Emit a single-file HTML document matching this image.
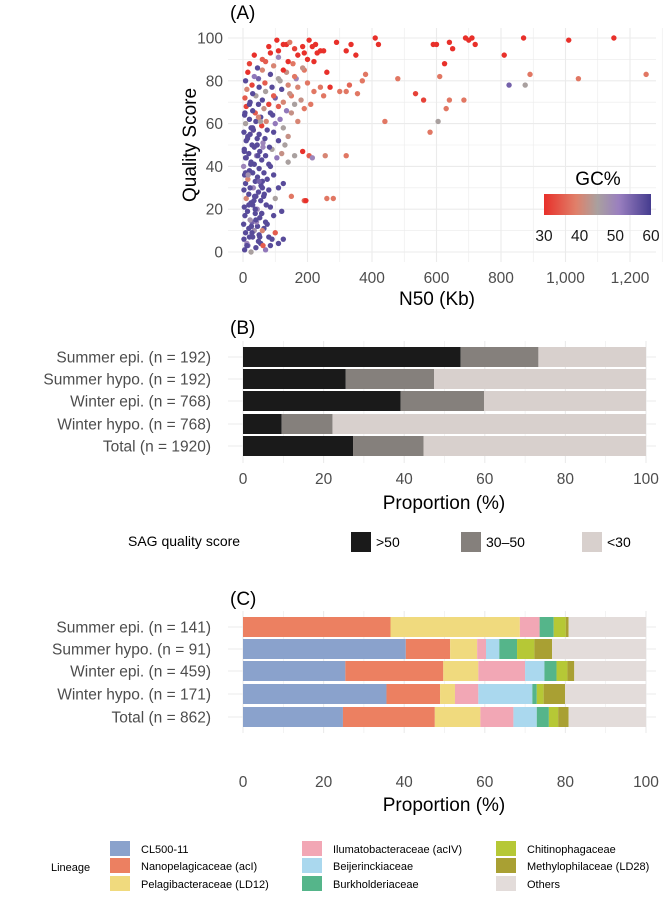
<!DOCTYPE html>
<html><head><meta charset="utf-8"><style>
body{margin:0;background:#fff}
svg text{font-family:"Liberation Sans",Arial,sans-serif}
</style></head><body>
<svg id="fig" width="666" height="898" viewBox="0 0 666 898" xmlns="http://www.w3.org/2000/svg">
<defs><linearGradient id="gcgrad" x1="0" x2="1" y1="0" y2="0">
<stop offset="0" stop-color="#e8302a"/><stop offset="0.3" stop-color="#e0806a"/><stop offset="0.5" stop-color="#a9a09f"/><stop offset="0.7" stop-color="#9a7fbf"/><stop offset="1" stop-color="#453c8f"/></linearGradient></defs>
<g id="pa"></g>
<g id="pb"></g>
<g id="pc"></g>
</svg>
<script>
// ---------- Panel A data ----------
const n50Kb = [5,15,25,40,55,70,85, 3,12,30,48,62,90,110, 8,20,35,50,65,80,100,125, 2,18,28,45,60,75, 6,22,38,52,70,95, 4,14,30,44,58,85,120, 10,25,40,55,72,100, 3,18,32,48,64,80, 8,22,38,56,75,110,125, 5,15,30,45,60,95, 2,20,35,50,65,85, 8,25,42,58,80,105,140,160, 4,18,35,52,70,90,120, 10,28,44,62,82,110,130, 3,15,32,50,68,95,140, 8,25,40,58,75,100,125,170, 5,20,38,55,72,92,115,150, 10,30,48,65,85,110,135,160,190, 6,22,40,60,80,100,125,150,180,210, 12,30,50,70,95,120,145,170,220,250, 8,28,48,68,90,115,140,165,200,240, 15,35,60,85,110,135,160,190, 20,45,70,95,125,155,185,220, 35,60,85,110,140,170,200,230, 80,110,135,160,190,215,240, 105,125,145,185,205,225,
410,420,590,600,640,650,690,700,710,720,870,1010,1150,810,625,380,480,610,890,1040,1250,825,875,535,560,640,685,630,440,605,580,320,255,185,205,215,260,280,150,190,195,330,355,370,320,300,290,335,350,320,250,260,270,
12,28,42,58,18,36,50,8,24,46,62,14,32,54,6,20,40,66,10,30,52,16,34,44,26,48,4,38,60,22];
const qualityScore = [1,3,0,2,4,1,3, 6,4,7,5,3,6,4, 9,7,10,8,11,7,9,6, 13,11,14,12,10,13, 17,15,18,16,14,17, 21,19,22,20,18,21,19, 25,23,26,24,22,25, 29,27,30,28,26,29, 32,30,33,31,34,30,32, 36,34,37,35,33,36, 40,38,41,39,37,40, 44,42,45,43,41,44,42,45, 48,46,49,47,45,48,46, 52,50,53,51,49,52,50, 56,54,57,55,53,56,54, 60,58,61,59,57,60,58,61, 64,62,65,63,61,64,62,65, 68,66,69,67,65,68,66,69,67, 72,70,73,71,69,72,70,73,71,69, 76,74,77,75,73,76,74,77,75,73, 80,78,81,79,77,80,78,81,79,77, 84,82,85,83,81,84,82,85, 88,86,89,87,85,88,86,89, 92,90,93,91,89,92,90,93, 96,94,97,95,93,96,94, 99,97,98,96,99,97,
100,97,97,97,98,95,100,99,100,97,100,99,100,92,88,83,81,82,83,81,83,78,78,74,71,71,71,67,61,61,56,45,45,47,45,44,25,25,26,24,24,78,74,80,75,75,98,97,92,94,94,84,77,
3,9,14,18,22,26,33,37,41,45,49,53,57,61,65,69,15,27,44,58,7,36,24,50,12,63,47,20,30,55];
const gcPercent = [58,55,45,58,58,52,58, 58,50,58,58,35,58,58, 58,58,48,58,58,58,35,58, 58,58,55,58,40,58, 58,48,58,58,58,58, 58,58,58,50,58,58,58, 40,58,58,58,58,45, 58,58,50,58,58,58, 58,58,58,58,58,58,58, 58,40,58,58,58,58, 50,58,58,58,58,58, 58,58,50,58,58,52,45,45, 58,58,58,58,58,45,42, 58,58,58,50,58,58,45, 58,58,35,58,58,58,42, 45,58,58,32,58,52,45,40, 58,58,35,58,40,58,52,42, 32,58,58,42,58,35,52,45,38, 35,58,45,58,32,55,40,38,42,38, 40,58,58,45,35,58,42,40,38,38, 58,32,55,35,58,45,40,50,38,38, 30,52,40,58,45,42,38,38, 32,58,35,40,30,38,42,30, 30,35,30,50,30,30,30,30, 30,30,30,32,30,30,30, 30,30,38,30,30,30,
30,30,30,30,30,30,30,30,30,30,30,30,30,30,30,38,38,38,38,38,38,55,45,32,32,38,38,38,38,45,38,38,40,30,35,50,38,38,38,36,30,36,38,38,38,38,30,30,30,30,30,30,30,
58,58,50,58,58,58,55,58,58,58,50,58,58,45,58,58,58,58,58,58,58,48,58,58,58,40,58,58,58,58];
const xTicksA = [0,200,400,600,800,1000,1200];
const xTickLabelsA = ["0","200","400","600","800","1,000","1,200"];
const yTicksA = [0,20,40,60,80,100];
const gcTicks = [30,40,50,60];

// ---------- Panel B data ----------
const groupsB = ["Summer epi. (n = 192)","Summer hypo. (n = 192)","Winter epi. (n = 768)","Winter hypo. (n = 768)","Total (n = 1920)"];
const qHigh = [54.0,25.5,39.1,9.6,27.3];
const qMid = [19.3,21.9,20.7,12.6,17.5];
const qLow = [26.7,52.6,40.2,77.8,55.2];
const qualityClasses = [">50","30–50","<30"];

// ---------- Panel C data ----------
const groupsC = ["Summer epi. (n = 141)","Summer hypo. (n = 91)","Winter epi. (n = 459)","Winter hypo. (n = 171)","Total (n = 862)"];
const lineages = ["CL500-11","Nanopelagicaceae (acI)","Pelagibacteraceae (LD12)","Ilumatobacteraceae (acIV)","Beijerinckiaceae","Burkholderiaceae","Chitinophagaceae","Methylophilaceae (LD28)","Others"];
const cl500 = [0,40.4,25.4,35.6,24.8];
const nanopel = [36.6,11.0,24.3,13.3,22.8];
const ld12 = [32.1,6.7,8.7,3.7,11.3];
const aciv = [4.9,2.2,11.6,5.8,8.2];
const beij = [0,3.3,4.8,13.4,5.8];
const burk = [3.5,4.4,3.0,1.1,3.0];
const chit = [3.0,4.3,2.7,1.7,2.3];
const meth = [0.7,4.4,1.7,5.3,2.6];
const others = [19.2,23.3,17.8,20.1,19.2];
const propTicks = [0,20,40,60,80,100];

const NS="http://www.w3.org/2000/svg";
function mk(parent,tag,attrs,text){const e=document.createElementNS(NS,tag);for(const k in attrs)e.setAttribute(k,attrs[k]);if(text!==undefined)e.textContent=text;parent.appendChild(e);return e;}

// ---------- Panel A ----------
const pa=document.getElementById('pa');
const ax=v=>243+v*0.3225, ay=v=>252-v*2.14;
const gcStops=[[30,[232,48,42]],[39,[224,128,106]],[45,[169,160,159]],[51,[154,127,191]],[60,[69,60,143]]];
function gcColor(g){for(let i=0;i<gcStops.length-1;i++){const [a,ca]=gcStops[i],[b,cb]=gcStops[i+1];if(g<=b){const t=Math.max(0,(g-a)/(b-a));return `rgb(${ca.map((c,j)=>Math.round(c+(cb[j]-c)*t)).join(',')})`;}}return 'rgb(69,60,143)';}
for(let v=0;v<=1300;v+=100){const l=mk(pa,'line',{x1:ax(v),x2:ax(v),y1:28,y2:262,stroke:'#ebebeb','stroke-width':v%200?0.6:1.1});
}
for(let v=0;v<=100;v+=10){const l=mk(pa,'line',{x1:228,x2:656,y1:ay(v),y2:ay(v),stroke:'#ebebeb','stroke-width':v%20?0.6:1.1});
}
for(let i=0;i<n50Kb.length;i++){const c=mk(pa,'circle',{cx:ax(n50Kb[i]),cy:ay(qualityScore[i]),r:2.7,fill:gcColor(gcPercent[i])});
}
xTicksA.forEach((v,i)=>{const t=mk(pa,'text',{x:ax(v),y:283,'text-anchor':'middle','font-size':15.5,fill:'#4d4d4d'},xTickLabelsA[i]);
});
yTicksA.forEach(v=>{const t=mk(pa,'text',{x:223,y:ay(v)+5.5,'text-anchor':'end','font-size':15.5,fill:'#4d4d4d'},String(v));
});
let t=mk(pa,'text',{x:437,y:305,'text-anchor':'middle','font-size':19},'N50 (Kb)');

t=mk(pa,'text',{x:0,y:0,'text-anchor':'middle','font-size':19,transform:'translate(196,145) rotate(-90)'},'Quality Score');

t=mk(pa,'text',{x:230,y:19,'font-size':19},'(A)');

t=mk(pa,'text',{x:598,y:185,'text-anchor':'middle','font-size':19},'GC%');

let r=mk(pa,'rect',{x:544,y:194,width:107,height:21,fill:'url(#gcgrad)'});

gcTicks.forEach(v=>{const tt=mk(pa,'text',{x:544+(v-30)/30*107,y:241,'text-anchor':'middle','font-size':15.5,fill:'#1a1a1a'},String(v));
});

// ---------- shared bar panel ----------
function barPanel(g,cfg){
  const bx=v=>243+v*4.03;
  for(let v=0;v<=100;v+=10){const l=mk(g,'line',{x1:bx(v),x2:bx(v),y1:cfg.top,y2:cfg.bottom,stroke:'#ebebeb','stroke-width':v%20?0.6:1.1});
  }
  cfg.groups.forEach((name,i)=>{const cy=cfg.centers[i];
    const l=mk(g,'line',{x1:228,x2:656,y1:cy,y2:cy,stroke:'#ebebeb','stroke-width':1.1});
    
    let acc=0;
    cfg.series.forEach((s,k)=>{const v=s[i];if(v>0){const rr=mk(g,'rect',{x:bx(acc),y:cy-10,width:bx(acc+v)-bx(acc),height:20,fill:cfg.colors[k]});
      }acc+=v;});
    const tt=mk(g,'text',{x:211,y:cy+5.5,'text-anchor':'end','font-size':15.5,fill:'#4d4d4d'},name);
    });
  propTicks.forEach(v=>{const tt=mk(g,'text',{x:bx(v),y:cfg.tickY,'text-anchor':'middle','font-size':15.5,fill:'#4d4d4d'},String(v));
    });
  let tt=mk(g,'text',{x:444,y:cfg.titleY,'text-anchor':'middle','font-size':19},'Proportion (%)');
  
  tt=mk(g,'text',{x:230,y:cfg.labelY,'font-size':19},cfg.label);
  
}
barPanel(document.getElementById('pb'),{groups:groupsB,centers:[357,379,401,424,446],top:341,bottom:463,
  series:[qHigh,qMid,qLow],colors:['#1a1a1a','#85807c','#d8d0cd'],tickY:484,titleY:509,labelY:334,label:'(B)'});
barPanel(document.getElementById('pc'),{groups:groupsC,centers:[627,649,671,694,717],top:611,bottom:733,
  series:[cl500,nanopel,ld12,aciv,beij,burk,chit,meth,others],
  colors:['#8aa2cc','#ec8061','#f0da7e','#f2a7b5','#aad8ee','#55b58a','#b6c836','#a9a033','#e3dcda'],tickY:787,titleY:811,labelY:605,label:'(C)'});

// legend B
const pb=document.getElementById('pb');
t=mk(pb,'text',{x:128,y:546,'font-size':14},'SAG quality score');

const lbx=[351,461,582],lbc=['#1a1a1a','#85807c','#d8d0cd'];
qualityClasses.forEach((c,i)=>{const s=mk(pb,'rect',{x:lbx[i],y:532,width:20,height:20,fill:lbc[i]});

const tt=mk(pb,'text',{x:lbx[i]+25,y:547,'font-size':14},c);
});

// legend C
const pc=document.getElementById('pc');
t=mk(pc,'text',{x:51,y:871,'font-size':11},'Lineage');

const lcc=['#8aa2cc','#ec8061','#f0da7e','#f2a7b5','#aad8ee','#55b58a','#b6c836','#a9a033','#e3dcda'];
const colX=[110,302,496],rowY=[841,858,876];
lineages.forEach((n,i)=>{const cx=colX[Math.floor(i/3)],cy=rowY[i%3];
const s=mk(pc,'rect',{x:cx,y:cy,width:20,height:15,fill:lcc[i]});

const tt=mk(pc,'text',{x:cx+31,y:cy+12,'font-size':11},n);
});
</script>
</body></html>
